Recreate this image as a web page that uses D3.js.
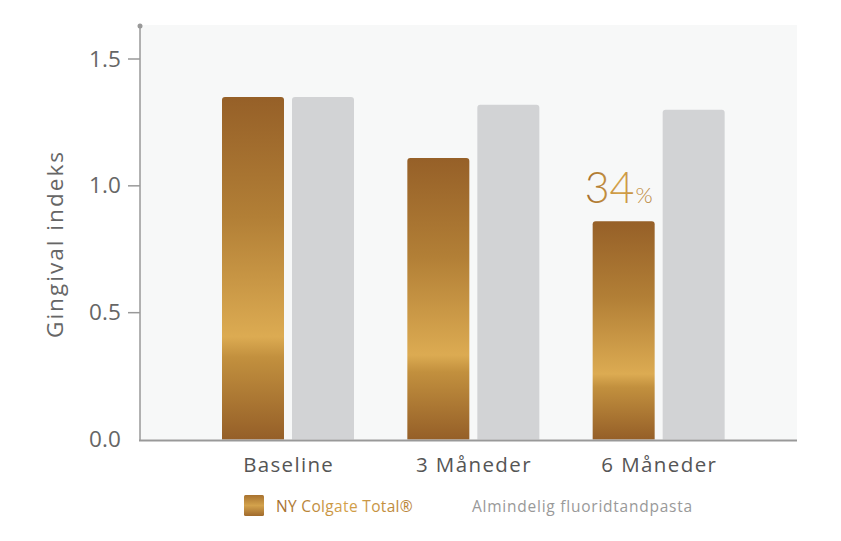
<!DOCTYPE html>
<html><head><meta charset="utf-8">
<script src="https://cdn.jsdelivr.net/npm/d3@7"></script>
<style>body{margin:0;background:#fff;}svg{display:block;font-family:"Open Sans",sans-serif;}</style>
</head><body>
<svg id="c" width="841" height="541"></svg>
<script>
const categories = ["Baseline", "3 Måneder", "6 Måneder"];
const colgate = [1.35, 1.11, 0.86];
const fluorid = [1.35, 1.32, 1.30];
const yTicks = [0.0, 0.5, 1.0, 1.5];
const seriesNames = ["NY Colgate Total®", "Almindelig fluoridtandpasta"];
const annotation = {cat: "6 Måneder", num: "34", unit: "%"};

const svg = d3.select("#c");
const L = 140, R = 797, T = 25, B = 439.5;
const y = d3.scaleLinear().domain([0, 1.5]).range([B, 59]);
const x0 = d3.scaleBand().domain(categories).range([196, 752]);
const x1 = d3.scaleBand().domain([0, 1]).range([26, 158]).paddingInner(0.1143);

// stretch text horizontally (letter-spacing) to the reference's wider font
function fitW(sel, w) {
  const n = sel.text().length;
  const m = sel.node().getComputedTextLength();
  sel.attr("letter-spacing", ((w - m) / n).toFixed(2));
  return sel;
}

const defs = svg.append("defs");
const g = defs.append("linearGradient").attr("id", "gold").attr("x1", 0).attr("y1", 0).attr("x2", 0).attr("y2", 1);
[[0, "#966028"], [0.35, "#b27f36"], [0.7, "#dcab52"], [0.76, "#c2903e"], [1, "#955f28"]]
  .forEach(([o, c]) => g.append("stop").attr("offset", o).attr("stop-color", c));
const gt = defs.append("linearGradient").attr("id", "goldtxt").attr("x1", 0).attr("y1", 0).attr("x2", 1).attr("y2", 0);
[[0, "#a26c2c"], [0.5, "#d4a24a"], [1, "#b58035"]]
  .forEach(([o, c]) => gt.append("stop").attr("offset", o).attr("stop-color", c));
const gs = defs.append("linearGradient").attr("id", "goldsw").attr("x1", 0).attr("y1", 0).attr("x2", 0).attr("y2", 1);
[[0, "#a8722f"], [0.5, "#d3a24c"], [1, "#a06a2c"]]
  .forEach(([o, c]) => gs.append("stop").attr("offset", o).attr("stop-color", c));

svg.append("rect").attr("x", L).attr("y", T).attr("width", R - L).attr("height", B - T).attr("fill", "#f7f8f8");

function topRounded(x, yTop, w, h, r) {
  return `M${x},${yTop + h}V${yTop + r}Q${x},${yTop} ${x + r},${yTop}H${x + w - r}Q${x + w},${yTop} ${x + w},${yTop + r}V${yTop + h}Z`;
}

categories.forEach((c, i) => {
  [colgate[i], fluorid[i]].forEach((v, j) => {
    const bx = x0(c) + x1(j), bw = x1.bandwidth();
    svg.append("path")
      .attr("d", topRounded(bx, y(v), bw, B - y(v), 3))
      .attr("fill", j === 0 ? "url(#gold)" : "#d2d3d5");
  });
});

svg.append("line").attr("x1", L).attr("x2", L).attr("y1", T + 1).attr("y2", B + 1).attr("stroke", "#999").attr("stroke-width", 1.5);
svg.append("circle").attr("cx", L).attr("cy", T + 1).attr("r", 2.5).attr("fill", "#999");
svg.append("line").attr("x1", L - 1).attr("x2", R).attr("y1", B + 1).attr("y2", B + 1).attr("stroke", "#999").attr("stroke-width", 2);

yTicks.forEach(t => {
  if (t > 0) svg.append("line").attr("x1", L - 12).attr("x2", L).attr("y1", y(t)).attr("y2", y(t)).attr("stroke", "#999").attr("stroke-width", 1.5);
  const tt = svg.append("text").attr("x", 121).attr("y", y(t) + 7.5).attr("text-anchor", "end")
    .attr("font-size", 22.5).attr("fill", "#666").text(t.toFixed(1));
  fitW(tt, 32);
});

const yt = svg.append("text").attr("transform", `translate(63,244) rotate(-90)`).attr("text-anchor", "middle")
  .attr("font-size", 22.5).attr("fill", "#666").text("Gingival indeks");
fitW(yt, 188);

const catW = [91, 116, 116];
categories.forEach((c, i) => {
  const ct = svg.append("text").attr("x", x0(c) + x0.bandwidth() / 2).attr("y", 472).attr("text-anchor", "middle")
    .attr("font-size", 20.5).attr("fill", "#555").text(c);
  fitW(ct, catW[i]);
});

const ai = categories.indexOf(annotation.cat);
const ax = x0(annotation.cat) + x1(0) + x1.bandwidth() / 2;
const at = svg.append("text").attr("x", ax - 5).attr("y", y(colgate[ai]) - 18.5).attr("text-anchor", "middle")
  .attr("fill", "url(#goldtxt)").attr("font-family", "Lato, sans-serif").attr("font-weight", 300);
at.append("tspan").attr("font-size", 43).text(annotation.num);
at.append("tspan").attr("font-size", 22).attr("dx", 1).text(annotation.unit);

svg.append("rect").attr("x", 244).attr("y", 495).attr("width", 20).attr("height", 21).attr("rx", 1.5).attr("fill", "url(#goldsw)");
const l1 = svg.append("text").attr("x", 276).attr("y", 512).attr("font-size", 15.5).attr("fill", "url(#goldtxt)")
  .attr("font-weight", 500).text(seriesNames[0]);
fitW(l1, 137);
const l2 = svg.append("text").attr("x", 472).attr("y", 512).attr("font-size", 15.5).attr("fill", "#999")
  .text(seriesNames[1]);
fitW(l2, 221);
</script>
</body></html>
